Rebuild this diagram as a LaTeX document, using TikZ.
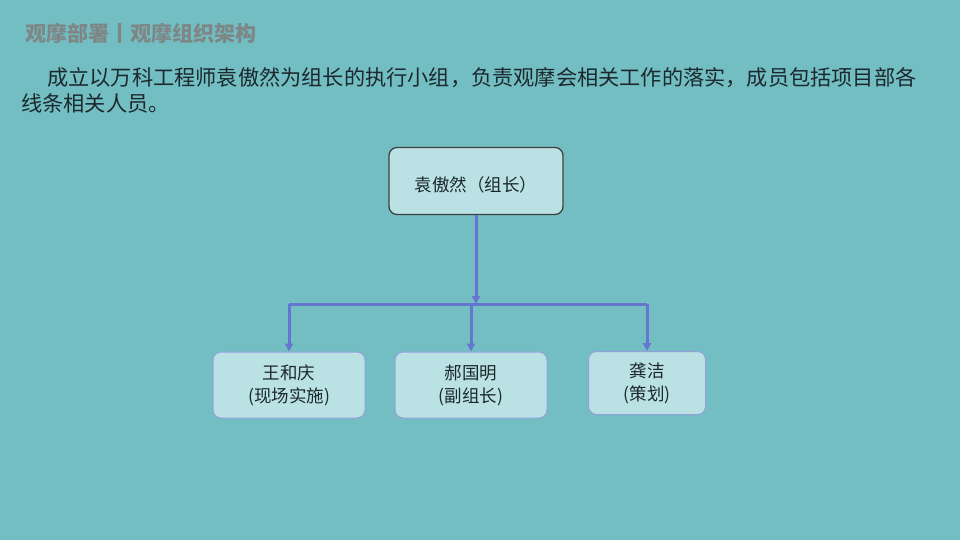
\documentclass[tikz,border=0pt]{standalone}
\usepackage{fontspec}
\usepackage{tikz}
\usetikzlibrary{calc,shapes,arrows.meta}
\setmainfont{Noto Sans CJK SC}
\definecolor{bgteal}{RGB}{114,190,195}
\definecolor{boxfill}{RGB}{186,226,228}
\definecolor{linkblue}{RGB}{102,118,208}
\definecolor{titlegrey}{RGB}{126,134,134}
\definecolor{bodyink}{RGB}{28,40,44}

\begin{document}
\begin{tikzpicture}[x=1pt,y=-1pt,
    person/.style={draw=linkblue!70!white,line width=1pt,fill=boxfill,rounded corners=8pt,
      minimum height=66pt,align=center,text=bodyink,font=\fontsize{17.5}{23}\selectfont},
    link/.style={draw=linkblue,line width=3pt,-{Triangle[length=8pt,width=8pt]}}]
        \fill[bgteal] (0,0) rectangle (960,540);
        \useasboundingbox (0,0) rectangle (960,540);
        \node[anchor=west,text=titlegrey,font=\fontsize{21}{25}\selectfont\bfseries] (t0) at (22,33) {观摩部署丨观摩组织架构};
        \node[anchor=west,text=bodyink,inner sep=0pt,font=\fontsize{21.2}{26}\selectfont] (b1) at (47,78) {成立以万科工程师袁傲然为组长的执行小组，负责观摩会相关工作的落实，成员包括项目部各};
        \node[anchor=west,text=bodyink,inner sep=0pt,font=\fontsize{21.2}{26}\selectfont] (b2) at (21,103) {线条相关人员。};
        \node[person,draw=black!75,line width=1.3pt,minimum width=174pt,minimum height=67pt,text height=22pt] (v0) at (476,181) {袁傲然（组长）};
        \node[person,minimum width=152pt] (u1) at (289,385) {王和庆\\(现场实施)};
        \node[person,minimum width=152pt] (u2) at (471,385) {郝国明\\(副组长)};
        \node[person,minimum width=117pt,minimum height=63pt] (u3) at (647,383) {龚洁\\(策划)};
        \coordinate (j0) at ($(v0.south)+(0,89)$);
        \coordinate (j1) at (u1.north |- j0);
        \coordinate (j2) at (u2.north |- j0);
        \coordinate (j3) at (u3.north |- j0);
        \draw[link] (v0.south) -- (j0);
        \draw[draw=linkblue,line width=3pt] (j1) -- (j3);
        \draw[link] (j1) -- (u1.north);
        \draw[link] (j2) -- (u2.north);
        \draw[link] (j3) -- (u3.north);
      \end{tikzpicture}
\end{document}
